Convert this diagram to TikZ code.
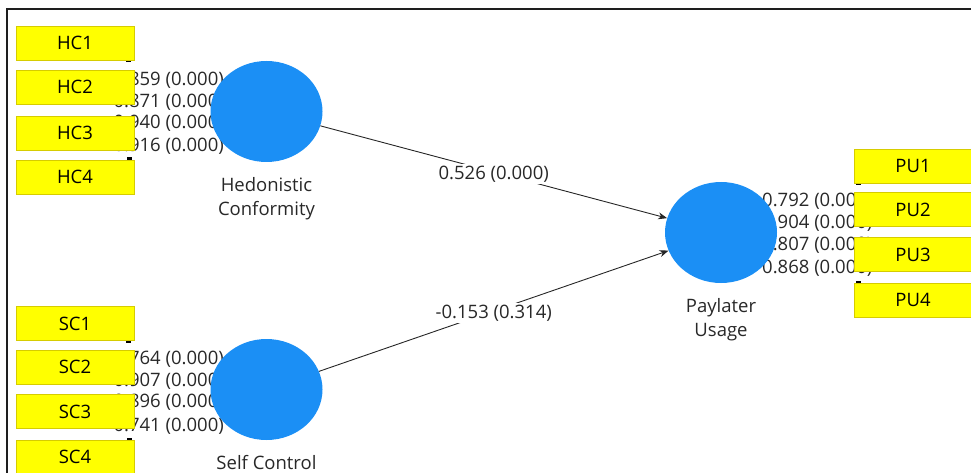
\documentclass[tikz,border=0pt]{standalone}
\usepackage{fontspec}
\setmainfont{Open Sans}
\usetikzlibrary{arrows.meta,positioning,shapes.geometric}
\definecolor{lvblue}{RGB}{27,143,245}
\definecolor{mvyellow}{RGB}{255,255,0}
\definecolor{mvedge}{RGB}{214,204,0}
\definecolor{txtgray}{RGB}{40,40,40}
\definecolor{framegray}{RGB}{30,30,30}

\begin{document}
\begin{tikzpicture}[x=1pt, y=-1pt,
    >={Stealth[length=9pt, width=7pt]},
    every node/.style={font=\fontsize{18.5}{24}\selectfont, text=txtgray},
    lv/.style={ellipse, fill=lvblue, inner sep=0pt, minimum width=112pt, minimum height=101pt},
    mv/.style={rectangle, fill=mvyellow, draw=mvedge, line width=0.8pt, inner sep=0pt,
      minimum width=118pt, minimum height=34pt, text=black},
    lvname/.style={align=center, inner sep=0pt, below=15pt of #1},
    load/.style={inner sep=0pt},
    path/.style={->, line width=0.9pt, draw=black!85},
    pathlbl/.style={fill=white, inner sep=1.5pt, yshift=-2pt}]
    \useasboundingbox (0,0) rectangle (971,473);
    % --- Frame (top and left edges only) ---
    \draw[framegray, line width=2pt] (7,473) -- (7,9.5) -- (971,9.5);
    % --- Outer loadings (drawn first, partly hidden) ---
    \node[load, anchor=east] (lhc1) at (224,80) {0.859 (0.000)};
    \node[load, anchor=east] (lhc2) at (224,102) {0.871 (0.000)};
    \node[load, anchor=east] (lhc3) at (224,123) {0.940 (0.000)};
    \node[load, anchor=east] (lhc4) at (224,146) {0.916 (0.000)};
    \node[load, anchor=east] (lsc1) at (224,359) {0.764 (0.000)};
    \node[load, anchor=east] (lsc2) at (224,381) {0.907 (0.000)};
    \node[load, anchor=east] (lsc3) at (224,402) {0.896 (0.000)};
    \node[load, anchor=east] (lsc4) at (224,426) {0.741 (0.000)};
    \node[load, anchor=west] (lpu1) at (762,201) {0.792 (0.000)};
    \node[load, anchor=west] (lpu2) at (762,223) {0.904 (0.000)};
    \node[load, anchor=west] (lpu3) at (762,245) {0.807 (0.000)};
    \node[load, anchor=west] (lpu4) at (762,268) {0.868 (0.000)};
    % --- Arrow tips peeking out from under the indicators ---
    \fill[black] (126,60) rectangle (131,62.5);
    \fill[black] (127,157.5) rectangle (132,160);
    \fill[black] (126,340) rectangle (131,342.5);
    \fill[black] (127,437.5) rectangle (132,440);
    \fill[black] (856,183) rectangle (861,185.5);
    \fill[black] (856,280.5) rectangle (861,283);
    % --- Indicators ---
    \node[mv] (hc1) at (75,43) {HC1};
    \node[mv] (hc2) at (75,87) {HC2};
    \node[mv] (hc3) at (75,133) {HC3};
    \node[mv] (hc4) at (75,177) {HC4};
    \node[mv] (sc1) at (75,323.5) {SC1};
    \node[mv] (sc2) at (75,367) {SC2};
    \node[mv] (sc3) at (75,411.5) {SC3};
    \node[mv] (sc4) at (75,457) {SC4};
    \node[mv] (pu1) at (913,166) {PU1};
    \node[mv] (pu2) at (913,209.5) {PU2};
    \node[mv] (pu3) at (913,254.5) {PU3};
    \node[mv] (pu4) at (913,300) {PU4};
    % --- Constructs ---
    \node[lv] (hc) at (266.5,111.5) {};
    \node[lv] (sc) at (266.5,389.5) {};
    \node[lv] (pu) at (721,232.5) {};
    \node[lvname=hc] (hcname) {Hedonistic\\Conformity};
    \node[lvname=sc] (scname) {Self Control};
    \node[lvname=pu] (puname) {Paylater\\Usage};
    % --- Structural paths ---
    \draw[path] (hc) -- (pu) node[pathlbl, midway] (phc) {0.526 (0.000)};
    \draw[path] (sc) -- (pu) node[pathlbl, midway] (psc) {-0.153 (0.314)};
\end{tikzpicture}
\end{document}
